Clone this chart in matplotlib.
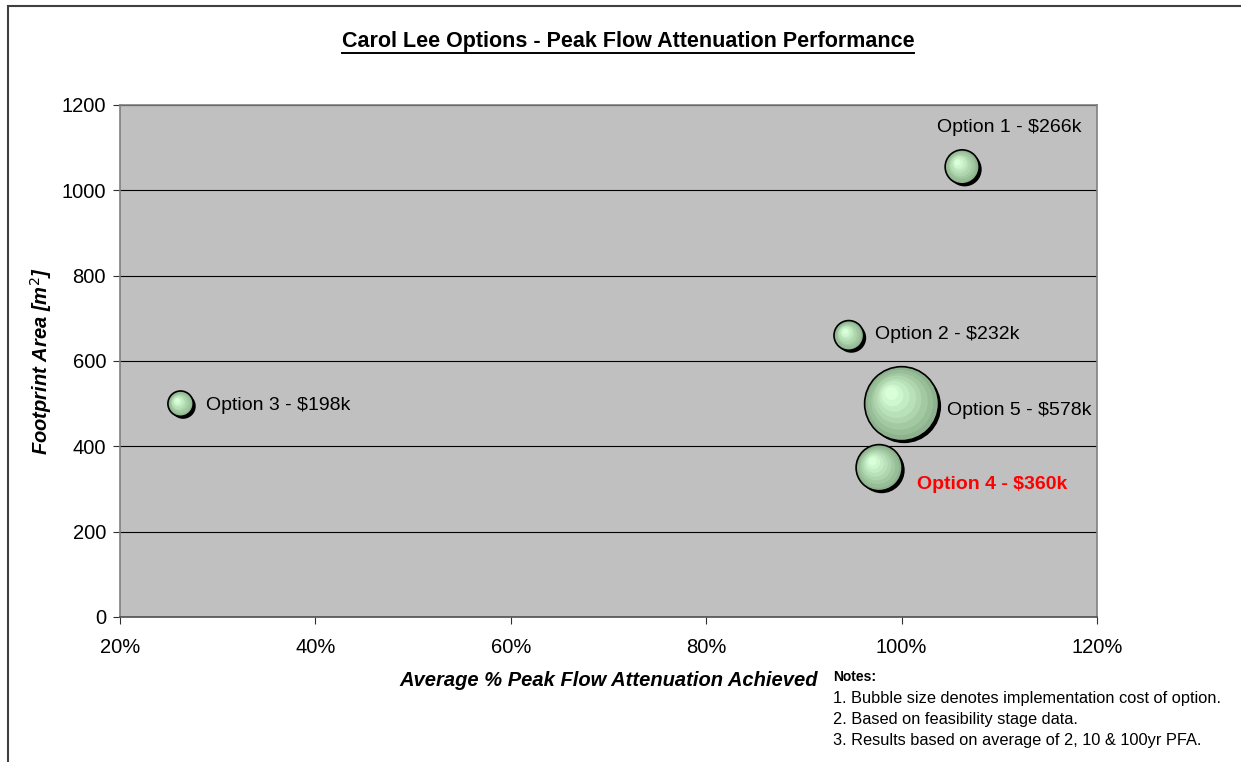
import matplotlib.pyplot as plt
import numpy as np
from matplotlib.patches import Rectangle
from matplotlib.lines import Line2D
from matplotlib.transforms import ScaledTranslation

plt.rcParams['font.family'] = ['Liberation Sans', 'DejaVu Sans']

# data
options = ['Option 1', 'Option 2', 'Option 3', 'Option 4', 'Option 5']
attenuation = [106.2, 94.6, 26.2, 97.7, 100.0]   # %
footprint = [1055, 660, 500, 350, 500]            # m2
cost = [266, 232, 198, 360, 578]                  # $k
label_offsets = [(34, 28), (19, 1), (18, -1), (27, -12), (33, -5)]  # points
label_ha = ['center', 'left', 'left', 'left', 'left']

fig = plt.figure(figsize=(12.41, 7.62), dpi=100)
ax = fig.add_axes([120 / 1241, 1 - 617 / 762, 977 / 1241, 512 / 762])
ax.set_facecolor('#c0c0c0')

# outer chart frame (cropped at right / bottom)
fig.patches.append(Rectangle((8 / 1241, -0.1), 1.2, 1 - 6 / 762 + 0.1,
                             transform=fig.transFigure, fill=False,
                             edgecolor='#404040', linewidth=1.5))

ax.set_xlim(20, 120)
ax.set_ylim(0, 1200)
ax.set_xticks(np.arange(20, 121, 20))
ax.set_xticklabels([f'{v}%' for v in range(20, 121, 20)])
ax.set_yticks(np.arange(0, 1201, 200))
ax.yaxis.grid(True, color='black', linewidth=0.8)
ax.set_axisbelow(True)
for s in ax.spines.values():
    s.set_color('#808080')
    s.set_linewidth(1.2)
ax.spines['bottom'].set_color('#505050')
ax.tick_params(axis='both', labelsize=14.5, length=5, color='#303030')
ax.tick_params(axis='x', pad=10)
ax.tick_params(axis='y', pad=5)

# bubble radius proportional to cost (px), converted to points
r_pt = np.array(cost) * 0.064 * 72 / 100
x = np.array(attenuation)
y = np.array(footprint)


def shifted(dx, dy):
    return ax.transData + ScaledTranslation(dx / 72, dy / 72, fig.dpi_scale_trans)


# shadow
ax.scatter(x, y, s=(2 * r_pt) ** 2, color='black', zorder=3,
           transform=shifted(1.8, -1.8), linewidths=0)
# outline + gradient layers
ax.scatter(x, y, s=(2 * r_pt) ** 2, color='#8db28d', edgecolors='black',
           linewidths=1.2, zorder=4)
shades = ['#98be98', '#a3c9a3', '#aed5ae', '#b9e1b9', '#c4ecc4', '#cff7cf', '#d8ffd8']
n = len(shades)
for i, c in enumerate(shades):
    f = 1 - (i + 1) / (n + 1.5)
    for xi, yi, ri in zip(x, y, r_pt):
        sh = (1 - f) * ri * 0.35
        ax.scatter([xi], [yi], s=(2 * ri * f) ** 2, color=c, linewidths=0,
                   zorder=5 + i, transform=shifted(-sh, sh))

for name, xi, yi, cst, off, ha in zip(options, x, y, cost, label_offsets, label_ha):
    red = name == 'Option 4'
    ax.annotate(f'{name} - ${cst}k', (xi, yi), xytext=off, textcoords='offset points',
                ha=ha, va='center', fontsize=14,
                color='red' if red else 'black',
                fontweight='bold' if red else 'normal', zorder=20)

ax.set_xlabel('Average % Peak Flow Attenuation Achieved', fontsize=14.5,
              fontweight='bold', style='italic', va='center')
ax.xaxis.set_label_coords(0.5, (617 - 681) / 512)
ax.set_ylabel('Footprint Area [m$^2$]', fontsize=14.5, fontweight='bold',
              style='italic', va='center')
ax.yaxis.set_label_coords((41 - 120) / 977, 0.5)

title = fig.text(628 / 1241, 1 - 41 / 762, 'Carol Lee Options - Peak Flow Attenuation Performance',
                 ha='center', va='center', fontsize=15.5, fontweight='bold')
fig.canvas.draw()
bb = title.get_window_extent().transformed(fig.transFigure.inverted())
fig.lines.append(Line2D([bb.x0, bb.x1], [bb.y0 - 0.002, bb.y0 - 0.002],
                        transform=fig.transFigure, color='black', linewidth=1.4))

fig.text(833 / 1241, 1 - 677 / 762, 'Notes:', fontsize=10, fontweight='bold', va='center')
notes = ['1. Bubble size denotes implementation cost of option.',
         '2. Based on feasibility stage data.',
         '3. Results based on average of 2, 10 & 100yr PFA.']
for i, t in enumerate(notes):
    fig.text(833 / 1241, 1 - (699 + 20.5 * i) / 762, t, fontsize=11.8, va='center')

fig.savefig('out.png', dpi=100)
